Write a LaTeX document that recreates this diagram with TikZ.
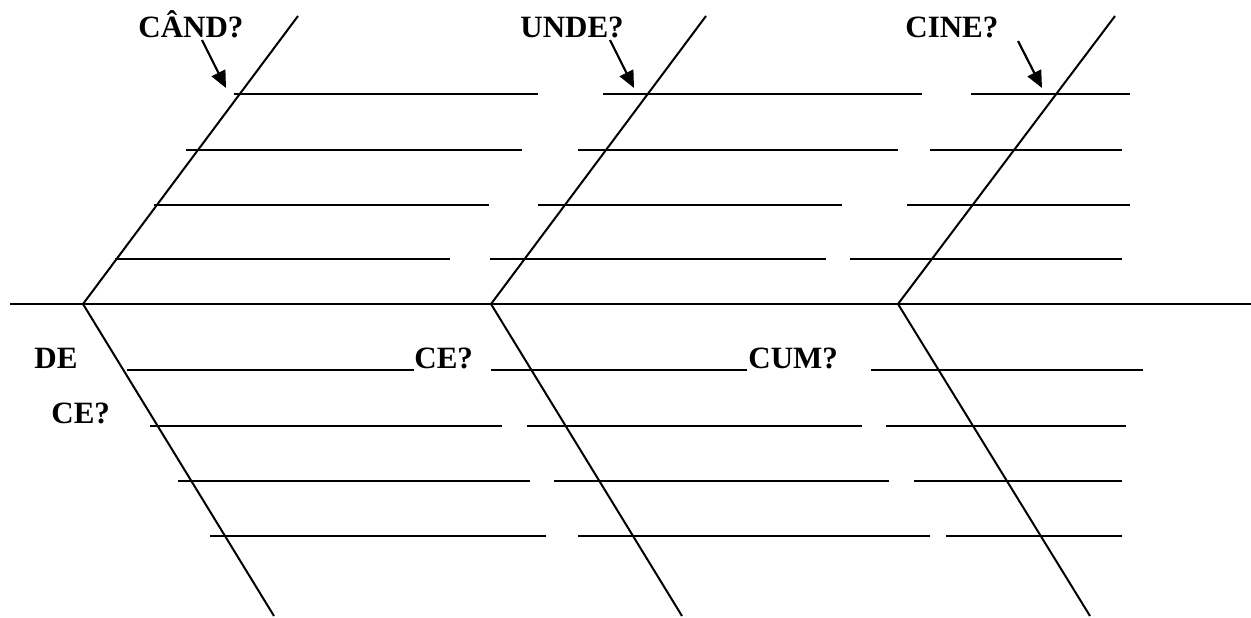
\documentclass[tikz,border=0pt]{standalone}
\usepackage{fontspec}
\setmainfont{Liberation Serif}
\usetikzlibrary{arrows.meta}
\begin{document}
\begin{tikzpicture}[x=0.5pt,y=-0.5pt,
  bone/.style={line width=1pt},
  blank/.style={line width=0.85pt},
  lbl/.style={font=\fontsize{15.5}{18}\selectfont\bfseries, inner sep=0pt, anchor=base west},
  ptr/.style={line width=1.1pt, -{Triangle[length=8.5pt,width=7.5pt]}}]
\useasboundingbox (0,0) rectangle (1251,617);
% spine
\coordinate (s0) at (10,304);
\coordinate (s1) at (1251,304);
\draw[bone] (s0) -- (s1);
% bones
\coordinate (v1) at (83,304);  \coordinate (t1) at (298,16);  \coordinate (b1) at (274,616);
\coordinate (v2) at (491,304); \coordinate (t2) at (706,16);  \coordinate (b2) at (682,616);
\coordinate (v3) at (898,304); \coordinate (t3) at (1115,16); \coordinate (b3) at (1090,616);
\draw[bone] (t1) -- (v1) -- (b1);
\draw[bone] (t2) -- (v2) -- (b2);
\draw[bone] (t3) -- (v3) -- (b3);
% blanks
\foreach \y/\a/\b/\c/\d/\e/\f in {
  94/234/538/603/922/971/1130,
  150/186/522/578/898/930/1122,
  205/154/489/538/842/907/1130,
  259/115/450/490/826/850/1122,
  370/127/414/491/747/871/1143,
  426/150/502/527/862/886/1126,
  481/178/530/554/889/914/1122,
  536/210/546/578/930/946/1122}{
  \draw[blank] (\a,\y) -- (\b,\y);
  \draw[blank] (\c,\y) -- (\d,\y);
  \draw[blank] (\e,\y) -- (\f,\y);
}
% labels
\node[lbl] (cand) at (138,37) {CÂND?};
\node[lbl] (unde) at (520,37) {UNDE?};
\node[lbl] (cine) at (905,37) {CINE?};
\node[lbl] (de) at (34,368) {DE};
\node[lbl] (ce1) at (51,423) {CE?};
\node[lbl] (ce2) at (414,368) {CE?};
\node[lbl] (cum) at (748,368) {CUM?};
% arrows
\coordinate (a1s) at (202,40);  \coordinate (a1e) at (226,88);
\coordinate (a2s) at (610,40);  \coordinate (a2e) at (634,88);
\coordinate (a3s) at (1018,41); \coordinate (a3e) at (1042,88);
\draw[ptr] (a1s) -- (a1e);
\draw[ptr] (a2s) -- (a2e);
\draw[ptr] (a3s) -- (a3e);
\end{tikzpicture}
\end{document}
